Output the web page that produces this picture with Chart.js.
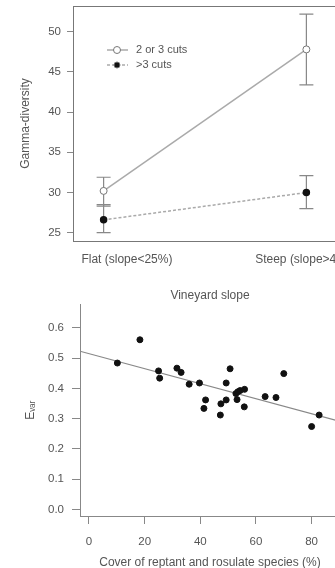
<!DOCTYPE html>
<html lang="en">
<head>
  <meta charset="UTF-8">
  <title>Gamma-diversity and Evar</title>
  <script src="https://cdn.jsdelivr.net/npm/chart.js"></script>
  <style>
    html, body { margin: 0; padding: 0; background: #fff; overflow: hidden; width: 335px; height: 568px; }
    canvas { display: block; }
  </style>
</head>
<body>
  <canvas id="gammaChart" width="345" height="270"></canvas>
  <canvas id="evarChart" width="345" height="298"></canvas>

  <script>
    // top panel: gamma-diversity by slope class
    const slopeGroups = ["Flat (slope<25%)", "Steep (slope>40%)"];
    const cuts23Mean = [30.2, 47.8];
    const cuts23Low = [28.3, 43.4];
    const cuts23High = [31.9, 52.2];
    const cutsMoreMean = [26.6, 30.0];
    const cutsMoreLow = [25.0, 28.0];
    const cutsMoreHigh = [28.5, 32.1];
    const gammaTicks = [25, 30, 35, 40, 45, 50];

    // bottom panel: Evar vs cover
    const coverPct = [10.2, 18.3, 25.0, 25.4, 31.6, 33.1, 36.0, 39.7, 41.9, 41.3, 47.2, 47.4, 49.3,
      49.3, 50.7, 52.8, 53.5, 54.3, 53.2, 55.9, 55.8, 63.3, 67.2, 70.0, 80.0, 82.7];
    const evar = [0.484, 0.561, 0.458, 0.434, 0.467, 0.453, 0.414, 0.418, 0.362, 0.334, 0.312, 0.349, 0.362,
      0.418, 0.465, 0.383, 0.389, 0.393, 0.363, 0.397, 0.339, 0.373, 0.370, 0.449, 0.274, 0.312];
    const fitX = [-3.2, 90.2];
    const fitY = [0.523, 0.291];
    const coverTicks = [0, 20, 40, 60, 80];
    const evarTicks = [0, 0.1, 0.2, 0.3, 0.4, 0.5, 0.6];

    const FONT = "'Liberation Sans', Arial, sans-serif";
    const TEXT = "#555";
    Chart.defaults.font.family = FONT;
    Chart.defaults.font.size = 11.5;
    Chart.defaults.color = TEXT;
    Chart.defaults.animation = false;

    const errorBars = {
      id: "errorBars",
      beforeDatasetsDraw(chart) {
        const ctx = chart.ctx;
        const xs = chart.scales.x, ys = chart.scales.y;
        const sets = [[cuts23Low, cuts23High], [cutsMoreLow, cutsMoreHigh]];
        ctx.save();
        ctx.strokeStyle = "#888";
        ctx.lineWidth = 1.2;
        sets.forEach(([lo, hi]) => {
          lo.forEach((v, i) => {
            const x = xs.getPixelForValue(i + 1);
            const y1 = ys.getPixelForValue(v), y2 = ys.getPixelForValue(hi[i]);
            ctx.beginPath();
            ctx.moveTo(x, y1); ctx.lineTo(x, y2);
            ctx.moveTo(x - 7, y1); ctx.lineTo(x + 7, y1);
            ctx.moveTo(x - 7, y2); ctx.lineTo(x + 7, y2);
            ctx.stroke();
          });
        });
        ctx.restore();
      }
    };

    const boxAndLegend = {
      id: "boxAndLegend",
      afterDraw(chart) {
        const ctx = chart.ctx, a = chart.chartArea;
        ctx.save();
        ctx.strokeStyle = "#777";
        ctx.lineWidth = 1;
        ctx.strokeRect(Math.round(a.left) + 0.5, Math.round(a.top) + 0.5,
          Math.round(a.right - a.left), Math.round(a.bottom - a.top));

        // legend
        const rows = [
          { label: "2 or 3 cuts", dash: [], fill: "#fff", r: 3.5, y: 50 },
          { label: ">3 cuts", dash: [3, 2], fill: "#111", r: 3, y: 65 }
        ];
        ctx.font = "11px " + FONT;
        ctx.textBaseline = "middle";
        rows.forEach(row => {
          ctx.strokeStyle = "#aaa";
          ctx.lineWidth = 1.5;
          ctx.setLineDash(row.dash);
          ctx.beginPath();
          ctx.moveTo(107, row.y); ctx.lineTo(128, row.y);
          ctx.stroke();
          ctx.setLineDash([]);
          ctx.beginPath();
          ctx.arc(117, row.y, row.r, 0, Math.PI * 2);
          ctx.fillStyle = row.fill;
          ctx.fill();
          ctx.strokeStyle = "#777";
          ctx.lineWidth = 1;
          ctx.stroke();
          ctx.fillStyle = TEXT;
          ctx.fillText(row.label, 136, row.y);
        });
        ctx.restore();
      }
    };

    new Chart(document.getElementById("gammaChart"), {
      type: "line",
      data: {
        datasets: [
          {
            label: "2 or 3 cuts",
            data: cuts23Mean.map((v, i) => ({ x: i + 1, y: v })),
            borderColor: "#aaa",
            borderWidth: 1.5,
            pointRadius: 3.5,
            pointBackgroundColor: "#fff",
            pointBorderColor: "#777",
            pointBorderWidth: 1
          },
          {
            label: ">3 cuts",
            data: cutsMoreMean.map((v, i) => ({ x: i + 1, y: v })),
            borderColor: "#aaa",
            borderWidth: 1.5,
            borderDash: [3, 2],
            pointRadius: 3,
            pointBackgroundColor: "#111",
            pointBorderColor: "#111"
          }
        ]
      },
      options: {
        responsive: false,
        layout: { padding: { top: 6, right: 8, left: 0, bottom: 0 } },
        plugins: { legend: { display: false }, tooltip: { enabled: false } },
        scales: {
          x: {
            type: "linear",
            min: 0.849,
            max: 2.151,
            grid: { display: false, drawTicks: false },
            border: { display: false },
            afterBuildTicks: s => { s.ticks = [{ value: 1.115 }, { value: 2 }]; },
            afterFit: s => { s.height = 29; s.paddingLeft = 0; s.paddingRight = 0; },
            ticks: {
              padding: 11,
              maxRotation: 0,
              autoSkip: false,
              font: { size: 12 },
              callback: (v, i) => slopeGroups[i]
            }
          },
          y: {
            min: 23.97,
            max: 53.2,
            grid: { drawOnChartArea: false, tickLength: 6, color: "#888" },
            border: { display: false },
            afterBuildTicks: s => { s.ticks = gammaTicks.map(v => ({ value: v })); },
            afterFit: s => { s.width = 73; s.paddingTop = 0; s.paddingBottom = 0; },
            ticks: { padding: 6 },
            title: { display: true, text: "Gamma-diversity", font: { size: 12 }, padding: { top: 18, bottom: 0 } }
          }
        }
      },
      plugins: [errorBars, boxAndLegend]
    });

    new Chart(document.getElementById("evarChart"), {
      type: "scatter",
      data: {
        datasets: [
          {
            label: "plots",
            data: coverPct.map((x, i) => ({ x: x, y: evar[i] })),
            pointRadius: 3,
            pointBackgroundColor: "#111",
            pointBorderColor: "#111",
            order: 1
          },
          {
            label: "fit",
            type: "line",
            data: fitX.map((x, i) => ({ x: x, y: fitY[i] })),
            borderColor: "#888",
            borderWidth: 1.2,
            pointRadius: 0,
            order: 2
          }
        ]
      },
      options: {
        responsive: false,
        layout: { padding: { top: 0, right: 5, left: 0, bottom: 0 } },
        plugins: {
          legend: { display: false },
          tooltip: { enabled: false },
          title: {
            display: true,
            text: "Vineyard slope",
            fullSize: false,
            color: TEXT,
            font: { size: 12, weight: "normal" },
            padding: { top: 18, bottom: 2 }
          }
        },
        scales: {
          x: {
            min: -3.23,
            max: 90.2,
            grid: { drawOnChartArea: false, tickLength: 8, color: "#888" },
            border: { color: "#888" },
            afterBuildTicks: s => { s.ticks = coverTicks.map(v => ({ value: v })); },
            afterFit: s => { s.height = 52; s.paddingLeft = 0; s.paddingRight = 0; },
            ticks: { padding: 11, maxRotation: 0, autoSkip: false },
            title: { display: true, text: "Cover of reptant and rosulate species (%)", font: { size: 12 }, padding: { top: 0, bottom: -2 } }
          },
          y: {
            min: -0.022,
            max: 0.678,
            grid: { drawOnChartArea: false, tickLength: 8, color: "#888" },
            border: { color: "#888" },
            afterBuildTicks: s => { s.ticks = evarTicks.map(v => ({ value: v })); },
            afterFit: s => { s.width = 80; s.paddingTop = 0; s.paddingBottom = 0; },
            ticks: { padding: 8, callback: v => v.toFixed(1) },
            title: { display: true, text: "Eᵥₐᵣ", font: { size: 12 }, padding: { top: 23, bottom: 0 } }
          }
        }
      }
    });
  </script>
</body>
</html>
